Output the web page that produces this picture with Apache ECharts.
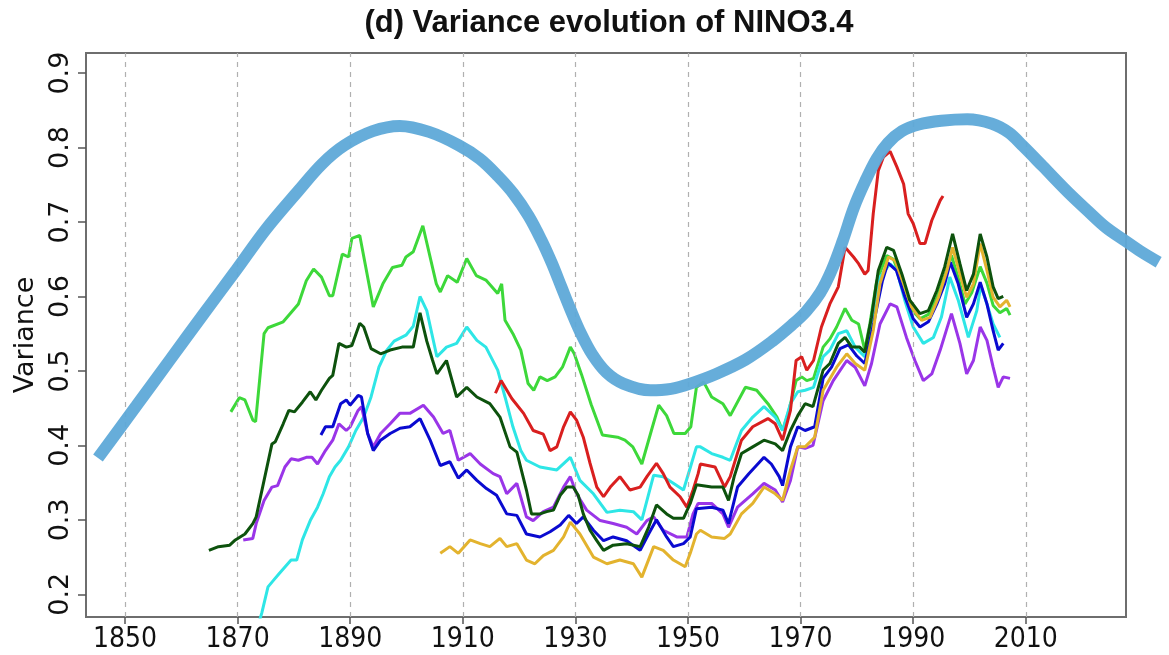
<!DOCTYPE html>
<html><head><meta charset="utf-8">
<script src="https://cdn.jsdelivr.net/npm/echarts@6/dist/echarts.min.js"></script>
<style>html,body{margin:0;padding:0;background:#fff}#c{width:1169px;height:655px}</style>
</head><body><div id="c"></div>
<script>
const titleText = '(d) Variance evolution of NINO3.4';
const yName = 'Variance';
const xTicks = [1850, 1870, 1890, 1910, 1930, 1950, 1970, 1990, 2010];
const yTicks = [0.2, 0.3, 0.4, 0.5, 0.6, 0.7, 0.8, 0.9];

const limeGreen = [[1868.8,0.445],[1870.3,0.464],[1871.3,0.461],[1872.7,0.434],[1873.2,0.432],[1874.7,0.55],[1875.4,0.558],[1878.1,0.566],[1880.8,0.590],[1882.2,0.621],[1883.5,0.637],[1884.9,0.626],[1886.3,0.601],[1886.9,0.601],[1888.6,0.657],[1889.7,0.653],[1890.3,0.678],[1891.7,0.682],[1894.1,0.586],[1895.8,0.617],[1897.5,0.639],[1899.2,0.642],[1899.9,0.653],[1901.2,0.66],[1902.9,0.695],[1905.3,0.617],[1906,0.606],[1907.3,0.628],[1909,0.619],[1910.7,0.651],[1912.4,0.628],[1914.1,0.622],[1916.2,0.604],[1916.9,0.617],[1917.5,0.568],[1918.9,0.55],[1920.3,0.528],[1921.6,0.483],[1922.6,0.474],[1923.7,0.492],[1925,0.487],[1926.4,0.492],[1927.7,0.505],[1929.1,0.532],[1929.8,0.523],[1931.1,0.495],[1932.8,0.455],[1934.8,0.414],[1937.5,0.411],[1938.8,0.407],[1940.2,0.398],[1941.8,0.375],[1943.5,0.42],[1944.8,0.454],[1946.2,0.44],[1947.5,0.416],[1949.5,0.416],[1950.5,0.425],[1951.5,0.478],[1952.8,0.485],[1954.2,0.465],[1956.2,0.456],[1957.5,0.44],[1960.2,0.478],[1962.2,0.474],[1964.2,0.456],[1965.8,0.438],[1966.8,0.42],[1967.8,0.443],[1969.2,0.487],[1970.2,0.492],[1971.1,0.487],[1972.3,0.49],[1974,0.532],[1975.2,0.543],[1976.4,0.559],[1977.9,0.584],[1979.1,0.568],[1980.3,0.563],[1981.4,0.528],[1982.3,0.563],[1983.5,0.62],[1985.3,0.655],[1986.5,0.65],[1988,0.62],[1989.4,0.585],[1991.2,0.57],[1992.7,0.576],[1994.2,0.598],[1995.6,0.628],[1996.8,0.655],[1998,0.625],[1999.2,0.59],[2000.4,0.605],[2001.9,0.64],[2003.1,0.618],[2004.2,0.588],[2005.4,0.578],[2006.6,0.584],[2007.2,0.575]];

const darkGreen = [[1864.9,0.259],[1866.6,0.264],[1868.6,0.266],[1869.6,0.273],[1871.3,0.281],[1872.7,0.295],[1873.3,0.304],[1874.7,0.353],[1876.1,0.402],[1876.7,0.405],[1878.1,0.429],[1879.1,0.447],[1880.1,0.445],[1881.5,0.458],[1882.9,0.472],[1883.9,0.461],[1884.9,0.474],[1886.3,0.49],[1886.9,0.494],[1888,0.537],[1889.3,0.532],[1890.3,0.534],[1891.7,0.564],[1892.4,0.559],[1893.7,0.53],[1895.4,0.523],[1897.1,0.528],[1899.2,0.532],[1901.2,0.532],[1902.4,0.578],[1903.6,0.54],[1904.6,0.515],[1905.4,0.496],[1907.1,0.514],[1908.9,0.465],[1910.7,0.478],[1912.5,0.465],[1914.8,0.456],[1916.6,0.438],[1918.4,0.398],[1919.6,0.391],[1921.3,0.34],[1922.2,0.308],[1923.7,0.308],[1924.9,0.311],[1926.1,0.313],[1927.3,0.333],[1928.5,0.344],[1929.6,0.344],[1930.5,0.333],[1931.4,0.308],[1932.6,0.286],[1933.8,0.272],[1935,0.259],[1936.7,0.266],[1939.1,0.268],[1941.5,0.264],[1943,0.29],[1944.4,0.32],[1946.2,0.308],[1947.4,0.302],[1949.2,0.302],[1950.4,0.322],[1951.5,0.347],[1954.2,0.344],[1956.2,0.344],[1957.2,0.326],[1958.2,0.358],[1959.5,0.389],[1961.5,0.398],[1963.5,0.407],[1965.5,0.402],[1966.8,0.393],[1968.2,0.42],[1969.5,0.44],[1970.8,0.456],[1972.2,0.452],[1974,0.501],[1975.2,0.51],[1976.7,0.537],[1977.9,0.545],[1979.1,0.532],[1980.5,0.532],[1981.4,0.525],[1982.6,0.572],[1983.8,0.635],[1985.3,0.666],[1986.5,0.662],[1988,0.63],[1989.4,0.595],[1991.2,0.577],[1992.7,0.581],[1994.2,0.608],[1995.6,0.64],[1997,0.684],[1998.3,0.644],[1999.5,0.608],[2000.7,0.63],[2001.9,0.684],[2003.1,0.653],[2004.2,0.613],[2005.1,0.597],[2006,0.6]];

const cyan = [[1873.3,0.15],[1874.3,0.175],[1875.4,0.21],[1876.4,0.219],[1877.4,0.228],[1879.5,0.246],[1880.5,0.246],[1881.5,0.273],[1882.9,0.299],[1884.2,0.317],[1885.2,0.335],[1886.3,0.358],[1887.3,0.371],[1888.3,0.38],[1889.7,0.398],[1891,0.42],[1892.4,0.438],[1893.7,0.465],[1895.1,0.505],[1896.5,0.528],[1897.8,0.54],[1899.9,0.548],[1901.2,0.56],[1902.4,0.6],[1903.6,0.581],[1905.4,0.519],[1907.1,0.532],[1908.9,0.537],[1910.7,0.559],[1912.5,0.541],[1914.1,0.532],[1916.2,0.501],[1917.5,0.465],[1918.9,0.425],[1920.3,0.393],[1921.3,0.38],[1923.7,0.371],[1926.7,0.367],[1929.1,0.384],[1930.8,0.353],[1933.2,0.335],[1935.6,0.31],[1937.9,0.313],[1940.3,0.311],[1941.8,0.3],[1943.9,0.36],[1945.6,0.358],[1947.4,0.349],[1949.2,0.34],[1950.4,0.37],[1951.5,0.398],[1952.2,0.398],[1954.2,0.389],[1956.2,0.384],[1957.5,0.38],[1959.5,0.42],[1961.5,0.438],[1963.5,0.452],[1965.5,0.438],[1966.8,0.42],[1968.2,0.456],[1969.5,0.472],[1970.8,0.474],[1972.3,0.478],[1974,0.519],[1975.2,0.528],[1976.7,0.55],[1978.2,0.554],[1979.7,0.532],[1981.4,0.519],[1982.6,0.568],[1984.1,0.626],[1985.9,0.644],[1987.1,0.635],[1988.5,0.595],[1990,0.559],[1991.8,0.537],[1993.6,0.545],[1995,0.572],[1996.5,0.626],[1998,0.595],[1999.8,0.545],[2001.3,0.581],[2002,0.615],[2003.1,0.59],[2004.2,0.563],[2005.4,0.545]];

const blue = [[1884.8,0.414],[1885.6,0.425],[1886.9,0.425],[1888.3,0.456],[1889.3,0.461],[1890,0.454],[1891.4,0.467],[1892,0.465],[1893.1,0.416],[1894.1,0.393],[1895.4,0.407],[1897.1,0.416],[1898.85,0.423],[1900.6,0.425],[1902.4,0.436],[1904.2,0.407],[1906,0.373],[1907.7,0.378],[1909.2,0.356],[1910.7,0.367],[1912.5,0.353],[1914.2,0.342],[1916,0.333],[1917.8,0.308],[1919.6,0.306],[1921.3,0.281],[1923.7,0.277],[1925.5,0.284],[1927.3,0.293],[1928.8,0.306],[1930.2,0.295],[1931.4,0.304],[1933.2,0.286],[1935,0.272],[1936.7,0.277],[1939.1,0.272],[1941.5,0.259],[1943,0.281],[1944.4,0.3],[1946.2,0.277],[1947.4,0.264],[1949.2,0.268],[1950.4,0.277],[1951.5,0.315],[1954.2,0.317],[1956.2,0.313],[1957.2,0.295],[1958.8,0.344],[1960.8,0.362],[1963.5,0.384],[1964.8,0.375],[1966.2,0.358],[1966.8,0.346],[1968.2,0.398],[1969.5,0.425],[1970.8,0.42],[1972.5,0.425],[1974,0.49],[1975.5,0.505],[1977,0.53],[1978.5,0.535],[1980,0.52],[1981.4,0.51],[1983,0.565],[1984.5,0.62],[1985.5,0.645],[1987,0.635],[1988.5,0.6],[1990,0.57],[1991.2,0.559],[1992.7,0.566],[1994.2,0.59],[1995.6,0.617],[1996.6,0.646],[1998,0.617],[1999.5,0.572],[2000.7,0.59],[2001.9,0.619],[2003.1,0.59],[2004.2,0.554],[2005.1,0.528],[2006,0.537]];

const purple = [[1871,0.273],[1872.7,0.275],[1873.3,0.295],[1874.7,0.326],[1876.1,0.344],[1877.1,0.346],[1878.4,0.371],[1879.5,0.382],[1880.8,0.38],[1882.2,0.384],[1883.2,0.384],[1884.2,0.375],[1885.6,0.393],[1886.9,0.407],[1888,0.429],[1889.3,0.42],[1890,0.425],[1891.4,0.447],[1892,0.452],[1893.1,0.416],[1894.1,0.398],[1895.4,0.416],[1897.1,0.429],[1898.8,0.443],[1900.6,0.443],[1903,0.454],[1904.8,0.438],[1906.5,0.416],[1907.7,0.42],[1909.2,0.38],[1911.3,0.389],[1913.1,0.375],[1915.4,0.362],[1916.6,0.358],[1917.8,0.335],[1919.6,0.349],[1921.3,0.304],[1922.5,0.299],[1924.3,0.311],[1926.1,0.317],[1927.9,0.344],[1929.1,0.358],[1930.2,0.335],[1932,0.313],[1934.4,0.299],[1936.7,0.295],[1939.1,0.29],[1940.9,0.281],[1942.7,0.299],[1943.9,0.304],[1945.6,0.286],[1948,0.277],[1949.8,0.277],[1950.9,0.308],[1951.8,0.322],[1954.2,0.322],[1956.2,0.308],[1957.2,0.29],[1958.8,0.317],[1961.5,0.335],[1963.5,0.349],[1965.5,0.34],[1966.8,0.324],[1968.2,0.353],[1969.5,0.398],[1970.8,0.396],[1972.2,0.4],[1974,0.46],[1975.8,0.487],[1978.2,0.514],[1979.7,0.505],[1981.4,0.48],[1982.6,0.51],[1984.1,0.563],[1985.9,0.59],[1987.1,0.586],[1988.8,0.545],[1990.3,0.514],[1991.8,0.487],[1993.3,0.496],[1994.8,0.528],[1996.8,0.577],[1998.3,0.537],[1999.5,0.496],[2000.7,0.514],[2001.9,0.559],[2003.1,0.541],[2004.2,0.505],[2005.1,0.478],[2006,0.492],[2007.2,0.49]];

const red = [[1915.8,0.47],[1916.8,0.487],[1918.7,0.463],[1920.8,0.443],[1922.5,0.42],[1924.3,0.415],[1925.5,0.393],[1926.7,0.398],[1927.9,0.425],[1929.1,0.445],[1930.2,0.434],[1931.4,0.411],[1932.6,0.376],[1933.8,0.344],[1935,0.331],[1936.2,0.344],[1937.9,0.358],[1939.7,0.34],[1941.5,0.344],[1942.7,0.358],[1944.4,0.376],[1945.6,0.362],[1946.8,0.344],[1948.6,0.331],[1949.8,0.317],[1950.9,0.34],[1951.8,0.362],[1952.2,0.375],[1954.8,0.371],[1956.5,0.344],[1957.5,0.358],[1959.5,0.407],[1961.5,0.425],[1964.2,0.436],[1965.5,0.429],[1966.8,0.407],[1968.2,0.447],[1969.2,0.514],[1970.2,0.519],[1971.1,0.501],[1972.3,0.514],[1973.7,0.559],[1975.2,0.59],[1976.7,0.613],[1977.9,0.666],[1979.4,0.653],[1980.3,0.644],[1981.4,0.63],[1982,0.635],[1982.9,0.711],[1983.8,0.769],[1984.7,0.787],[1985.9,0.795],[1987.1,0.774],[1988.3,0.751],[1989.1,0.711],[1990,0.698],[1991.2,0.671],[1992.1,0.671],[1993.3,0.702],[1994.8,0.729],[1995.3,0.735]];

const gold = [[1906,0.255],[1907.7,0.264],[1909.2,0.255],[1911.3,0.273],[1913.1,0.268],[1914.8,0.264],[1916.6,0.275],[1917.8,0.264],[1919.6,0.268],[1921.3,0.246],[1922.8,0.241],[1924.3,0.252],[1926.1,0.259],[1927.9,0.277],[1929.1,0.297],[1930.8,0.281],[1933.2,0.25],[1935.6,0.241],[1937.9,0.246],[1940.3,0.241],[1941.8,0.223],[1943.9,0.264],[1945.6,0.259],[1947.4,0.246],[1949.5,0.237],[1950.4,0.255],[1951.5,0.281],[1952.2,0.286],[1954.2,0.277],[1956.5,0.275],[1957.5,0.281],[1959.5,0.308],[1961.5,0.322],[1963.5,0.344],[1965.5,0.335],[1966.8,0.326],[1968.2,0.367],[1969.5,0.398],[1970.8,0.398],[1972.5,0.411],[1974,0.474],[1976.4,0.505],[1978.2,0.523],[1979.7,0.51],[1981.4,0.501],[1982.9,0.554],[1984.1,0.617],[1985.6,0.653],[1986.8,0.648],[1988.3,0.617],[1989.7,0.586],[1991.5,0.568],[1993,0.572],[1994.5,0.599],[1996,0.635],[1997,0.666],[1998.3,0.63],[1999.5,0.599],[2000.7,0.617],[2001.9,0.671],[2003.1,0.635],[2004.2,0.599],[2005.4,0.586],[2006.6,0.595],[2007.2,0.586]];

const overlayCurve = [[1845.2,0.383],[1852,0.453],[1858,0.515],[1864,0.577],[1869.7,0.635],[1875,0.69],[1880.8,0.742],[1885,0.778],[1889,0.803],[1894,0.822],[1898.8,0.829],[1904,0.821],[1909.3,0.803],[1913,0.785],[1916.2,0.762],[1919,0.738],[1921.7,0.708],[1924,0.675],[1925.8,0.645],[1927.5,0.613],[1929.1,0.583],[1931,0.55],[1933,0.522],[1935.5,0.498],[1938.5,0.483],[1943.3,0.474],[1947,0.476],[1950.4,0.483],[1955,0.496],[1960.2,0.515],[1965,0.54],[1968.5,0.562],[1971,0.58],[1973.5,0.605],[1975.5,0.635],[1977.5,0.675],[1979.5,0.72],[1981.5,0.755],[1983.5,0.785],[1985.5,0.806],[1988,0.822],[1991,0.831],[1995,0.836],[1999.6,0.838],[2004,0.832],[2007,0.82],[2009.5,0.802],[2013,0.775],[2017.5,0.74],[2021,0.715],[2024.2,0.693],[2027.6,0.675],[2030.5,0.66],[2033.6,0.646]];

// axis ranges (the overlay uses a wider invisible grid with the same scale so it can run past the frame)
const xMin = 1843.07, xMax = 2027.8, yMin = 0.1695, yMax = 0.927;
const gridLeft = 86, gridRight = 43, W = 1169;
const pxPerYear = (W - gridLeft - gridRight) / (xMax - xMin);
const xMaxWide = xMin + (W - gridLeft) / pxPerYear;

const chart = echarts.init(document.getElementById('c'), null, {renderer: 'canvas'});
const narrow = "'Liberation Sans Narrow', 'DejaVu Sans Condensed', 'Liberation Sans', sans-serif";
function lineSeries(name, data, color, z) {
  return {name: name, type: 'line', data: data, showSymbol: false, symbol: 'none', clip: true, z: z,
    lineStyle: {color: color, width: 3}, itemStyle: {color: color}, silent: true};
}
const option = {
  animation: false,
  title: {text: titleText, left: 604, top: 3, textAlign: 'center',
    textStyle: {fontFamily: "'Liberation Sans', Arial, sans-serif", fontWeight: 'bold', fontSize: 31, color: '#111'}},
  grid: [
    {left: gridLeft, top: 53, right: gridRight, bottom: 38, show: true, borderColor: '#6e6e6e', borderWidth: 2, backgroundColor: 'transparent'},
    {left: gridLeft, top: 53, right: 0, bottom: 38, show: false}
  ],
  xAxis: [
    {type: 'value', gridIndex: 0, min: xMin, max: xMax,
      axisLine: {show: false},
      axisTick: {show: true, customValues: xTicks, length: 7, lineStyle: {color: '#555', width: 1.5}},
      axisLabel: {customValues: xTicks, margin: 9, fontFamily: narrow, fontSize: 28, color: '#111', formatter: v => String(v)},
      splitLine: {show: false}},
    {type: 'value', gridIndex: 1, min: xMin, max: xMaxWide, show: false}
  ],
  yAxis: [
    {type: 'value', gridIndex: 0, min: yMin, max: yMax,
      name: yName, nameLocation: 'middle', nameRotate: 90, nameGap: 38,
      nameTextStyle: {fontFamily: "'DejaVu Sans', sans-serif", fontSize: 27, color: '#111'},
      axisLine: {show: false},
      axisTick: {show: true, customValues: yTicks, length: 8, lineStyle: {color: '#555', width: 1.5}},
      axisLabel: {customValues: yTicks, rotate: 90, margin: 12, fontFamily: "'DejaVu Sans', sans-serif", fontSize: 27, color: '#111',
        formatter: v => v.toFixed(1)},
      splitLine: {show: false}},
    {type: 'value', gridIndex: 1, min: yMin, max: yMax, show: false}
  ],
  series: [
    {type: 'line', data: [], silent: true, z: 1,
      markLine: {silent: true, symbol: ['none', 'none'], label: {show: false},
        lineStyle: {type: [5, 5], color: '#b0b0b0', width: 1.2},
        data: xTicks.map(v => ({xAxis: v}))}},
    lineSeries('lime', limeGreen, '#3dd83a', 2),
    lineSeries('cyan', cyan, '#2ee6e6', 3),
    lineSeries('purple', purple, '#9a35e8', 4),
    lineSeries('blue', blue, '#0a0ad0', 5),
    lineSeries('gold', gold, '#e3b32e', 6),
    lineSeries('red', red, '#d91f1f', 7),
    lineSeries('darkgreen', darkGreen, '#0d520d', 8),
    {name: 'overlay', type: 'line', xAxisIndex: 1, yAxisIndex: 1, data: overlayCurve, smooth: 0.35, showSymbol: false, symbol: 'none', clip: false, z: 20, silent: true,
      lineStyle: {color: '#5ea9d8', width: 12, opacity: 0.95}}
  ]
};
chart.setOption(option);
</script></body></html>
